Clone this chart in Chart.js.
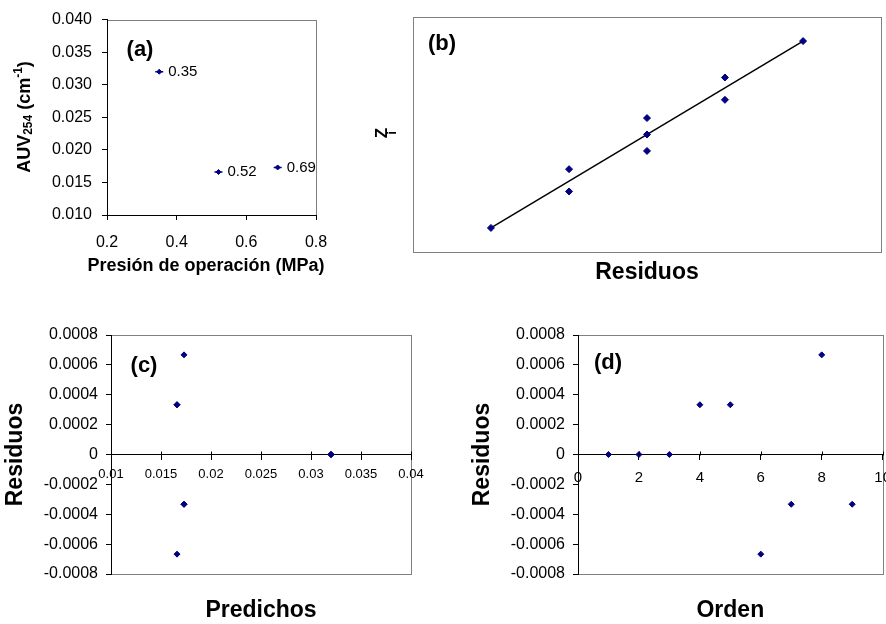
<!DOCTYPE html>
<html><head><meta charset="utf-8">
<script src="https://cdn.jsdelivr.net/npm/chart.js@4.4.1/dist/chart.umd.min.js"></script>
<style>
html,body{margin:0;padding:0;overflow:hidden;background:#fff;width:886px;height:624px;position:relative;}
canvas{position:absolute;}
</style></head><body>
<canvas id="ca" width="350" height="290" style="left:0;top:0;width:350px;height:290px"></canvas>
<canvas id="cb" width="526" height="290" style="left:360px;top:0;width:526px;height:290px"></canvas>
<canvas id="cc" width="440" height="334" style="left:0;top:290px;width:440px;height:334px"></canvas>
<canvas id="cd" width="460" height="334" style="left:440px;top:290px;width:460px;height:334px"></canvas>
<script>
// ---------- data ----------
const pressures = [0.35, 0.52, 0.69];
const auv254 = [0.0320, 0.0166, 0.0173];
const pressureLabels = ['0.35', '0.52', '0.69'];

const sortedResiduals = [-0.000667, -0.000333, -0.000333, 0, 0, 0, 0.000333, 0.000333, 0.000667];
const normalScores = [-1.59, -0.97, -0.59, -0.28, 0, 0.28, 0.59, 0.97, 1.59];

const order = [1, 2, 3, 4, 5, 6, 7, 8, 9];
const predicted = [0.0320, 0.0320, 0.0320, 0.0166, 0.0166, 0.0166, 0.0173, 0.0173, 0.0173];
const residuals = [0, 0, 0, 0.000333, 0.000333, -0.000667, -0.000333, 0.000667, -0.000333];

// ---------- tick labels ----------
const pressureTicks = [0.2, 0.4, 0.6, 0.8];
const pressureTickLabels = ['0.2', '0.4', '0.6', '0.8'];
const auvTicks = [0.010, 0.015, 0.020, 0.025, 0.030, 0.035, 0.040];
const auvTickLabels = ['0.010', '0.015', '0.020', '0.025', '0.030', '0.035', '0.040'];
const residualTicks = [-0.0008, -0.0006, -0.0004, -0.0002, 0, 0.0002, 0.0004, 0.0006, 0.0008];
const residualTickLabels = ['-0.0008', '-0.0006', '-0.0004', '-0.0002', '0', '0.0002', '0.0004', '0.0006', '0.0008'];
const predictedTicks = [0.01, 0.015, 0.02, 0.025, 0.03, 0.035, 0.04];
const predictedTickLabels = ['0.01', '0.015', '0.02', '0.025', '0.03', '0.035', '0.04'];
const orderTicks = [0, 2, 4, 6, 8, 10];
const orderTickLabels = ['0', '2', '4', '6', '8', '10'];

const panelLabels = ['(a)', '(b)', '(c)', '(d)'];
const titleA_x = 'Presión de operación (MPa)';
const titleResid = 'Residuos';
const titlePred = 'Predichos';
const titleOrder = 'Orden';

// ---------- helpers ----------
const FAM = '"Liberation Sans", Arial, sans-serif';
Chart.defaults.font.family = FAM;
Chart.defaults.color = '#000';
Chart.defaults.animation = false;
Chart.defaults.plugins.legend.display = false;
Chart.defaults.plugins.tooltip.enabled = false;
const NAVY = '#000080';
const GRAY = '#808080';

function pts(xs, ys) { return xs.map((x, i) => ({x: x, y: ys[i]})); }
function fixedTicks(values) { return s => { s.ticks = values.map(v => ({value: v})); }; }
function labelsFrom(labels) { return (v, i) => labels[i]; }

function rich(ctx, segs, cx, cy, rot) {
  ctx.save();
  ctx.translate(cx, cy);
  ctx.rotate(rot || 0);
  ctx.textBaseline = 'middle';
  ctx.textAlign = 'left';
  ctx.fillStyle = '#000';
  let total = 0;
  segs.forEach(s => { ctx.font = s.font; s.w = ctx.measureText(s.t).width; total += s.w; });
  let x = -total / 2;
  segs.forEach(s => { ctx.font = s.font; ctx.fillText(s.t, x, s.dy || 0); x += s.w; });
  ctx.restore();
}

function frame(extra, crossTicks) {
  return {
    id: 'frame',
    beforeDraw(chart) {
      const a = chart.chartArea, ctx = chart.ctx;
      ctx.save();
      ctx.strokeStyle = GRAY; ctx.lineWidth = 1;
      ctx.strokeRect(Math.round(a.left) + 0.5, Math.round(a.top) + 0.5,
                     Math.round(a.right - a.left), Math.round(a.bottom - a.top));
      ctx.restore();
    },
    afterDraw(chart) {
      const ctx = chart.ctx;
      if (crossTicks) {
        const xs = chart.scales.x, ys = chart.scales.y;
        const zy = Math.round(ys.getPixelForValue(0)) + 0.5;
        ctx.save(); ctx.strokeStyle = '#000'; ctx.lineWidth = 1;
        xs.ticks.forEach(t => {
          const px = Math.round(xs.getPixelForValue(t.value)) + 0.5;
          ctx.beginPath(); ctx.moveTo(px, zy); ctx.lineTo(px, zy - 4); ctx.stroke();
        });
        ctx.restore();
      }
      extra(chart, ctx);
    }
  };
}

function axisStyle(size, pad) {
  return {
    ticks: {font: {size: size}, padding: pad, maxRotation: 0, autoSkip: false, color: '#000'},
    grid: {drawOnChartArea: false, tickLength: 5, color: '#000'},
    border: {color: '#000', width: 1}
  };
}

// ---------- (a) ----------
const ca = new Chart(document.getElementById('ca'), {
  type: 'scatter',
  data: {datasets: [
    {data: pts(pressures, auv254), pointStyle: 'rectRot', pointRadius: 2.5,
     pointBackgroundColor: NAVY, pointBorderColor: NAVY, pointBorderWidth: 1},
    {data: pts(pressures, auv254), pointStyle: 'line', pointRadius: 4,
     pointBorderColor: NAVY, pointBorderWidth: 1.5}
  ]},
  options: {
    responsive: false,
    layout: {padding: {left: 0, top: 19, right: 34, bottom: 0}},
    scales: {
      x: Object.assign(axisStyle(16, 13), {
        type: 'linear', position: 'bottom', min: 0.2, max: 0.8,
        afterBuildTicks: fixedTicks(pressureTicks),
        afterFit: s => { s.height = 75; }
      }),
      y: Object.assign(axisStyle(16, 10), {
        type: 'linear', position: 'left', min: 0.010, max: 0.040,
        afterBuildTicks: fixedTicks(auvTicks),
        afterFit: s => { s.width = 107; }
      })
    }
  },
  plugins: [frame((chart, ctx) => {
    const xs = chart.scales.x, ys = chart.scales.y;
    ctx.save();
    ctx.font = '15px ' + FAM; ctx.fillStyle = '#000'; ctx.textBaseline = 'middle'; ctx.textAlign = 'left';
    pressures.forEach((p, i) => {
      ctx.fillText(pressureLabels[i], xs.getPixelForValue(p) + 9, ys.getPixelForValue(auv254[i]));
    });
    ctx.font = 'bold 22px ' + FAM; ctx.textAlign = 'center';
    ctx.fillText(panelLabels[0], 140, 50);
    ctx.font = 'bold 18px ' + FAM;
    ctx.fillText(titleA_x, 206, 266);
    ctx.restore();
    const B = 'bold 18px ' + FAM, S = 'bold 12px ' + FAM;
    rich(ctx, [{t: 'AUV', font: B}, {t: '254', font: S, dy: 4}, {t: ' (cm', font: B},
               {t: '-1', font: S, dy: -6}, {t: ')', font: B}], 25, 117, -Math.PI / 2);
  }, false)]
});
ca.options.scales.x.ticks.callback = labelsFrom(pressureTickLabels);
ca.options.scales.y.ticks.callback = labelsFrom(auvTickLabels);
ca.update();

// ---------- (b) ----------
new Chart(document.getElementById('cb'), {
  type: 'scatter',
  data: {datasets: [
    {data: pts(sortedResiduals, normalScores), pointStyle: 'rectRot', pointRadius: 3.5,
     pointBackgroundColor: NAVY, pointBorderColor: NAVY, pointBorderWidth: 1},
    {data: [{x: sortedResiduals[0], y: normalScores[0]},
            {x: sortedResiduals[sortedResiduals.length - 1], y: normalScores[normalScores.length - 1]}],
     showLine: true, borderColor: '#000', borderWidth: 1.5, pointRadius: 0}
  ]},
  options: {
    responsive: false,
    layout: {padding: {left: 53, top: 17, right: 5, bottom: 0}},
    scales: {
      x: {type: 'linear', position: 'bottom', min: -0.001, max: 0.001,
          ticks: {display: false}, grid: {display: false}, border: {display: false},
          title: {display: true, text: titleResid, font: {size: 23, weight: 'bold'}, padding: {top: 0, bottom: 4}},
          afterFit: s => { s.height = 38; }},
      y: {type: 'linear', display: false, min: -2, max: 2}
    }
  },
  plugins: [frame((chart, ctx) => {
    ctx.save();
    ctx.font = 'bold 22px ' + FAM; ctx.fillStyle = '#000'; ctx.textBaseline = 'middle'; ctx.textAlign = 'center';
    ctx.fillText(panelLabels[1], 82, 44);
    ctx.restore();
    rich(ctx, [{t: 'Z', font: 'bold 17px ' + FAM}], 22, 133, -Math.PI / 2);
    rich(ctx, [{t: 'i', font: 'bold 13px ' + FAM}], 32, 133, -Math.PI / 2);
  }, false)]
});

// ---------- (c) & (d) ----------
function residualChart(id, xVals, xTicks, xMin, xMax, xFont, xPad, yWidth, titleX, titlePadTop, rightPad, panel, lx, ly) {
  return new Chart(document.getElementById(id), {
    type: 'scatter',
    data: {datasets: [
      {data: pts(xVals, residuals), pointStyle: 'rectRot', pointRadius: 3,
       pointBackgroundColor: NAVY, pointBorderColor: NAVY, pointBorderWidth: 1, xAxisID: 'x', yAxisID: 'y'}
    ]},
    options: {
      responsive: false,
      layout: {padding: {left: 0, top: 45, right: rightPad, bottom: 0}},
      scales: {
        x: Object.assign(axisStyle(xFont, xPad), {
          type: 'linear', position: {y: 0}, min: xMin, max: xMax,
          afterBuildTicks: fixedTicks(xTicks)
        }),
        x2: {type: 'linear', position: 'bottom', axis: 'x',
             ticks: {display: false}, grid: {display: false}, border: {display: false},
             title: {display: true, text: titleX, font: {size: 23, weight: 'bold'}, padding: {top: 0, bottom: 0}},
             afterFit: s => { s.height = 50; }},
        y: Object.assign(axisStyle(16, 8), {
          type: 'linear', position: 'left', min: -0.0008, max: 0.0008,
          afterBuildTicks: fixedTicks(residualTicks),
          title: {display: true, text: titleResid, font: {size: 23, weight: 'bold'}, padding: {top: titlePadTop, bottom: 0}},
          afterFit: s => { s.width = yWidth; }
        })
      }
    },
    plugins: [frame((chart, ctx) => {
      ctx.save();
      ctx.font = 'bold 22px ' + FAM; ctx.fillStyle = '#000'; ctx.textBaseline = 'middle'; ctx.textAlign = 'center';
      ctx.fillText(panel, lx, ly);
      ctx.restore();
    }, true)]
  });
}
const cc = residualChart('cc', predicted, predictedTicks, 0.01, 0.04, 13, 7, 111, titlePred, 2, 29, panelLabels[2], 144, 76);
cc.options.scales.x.ticks.callback = labelsFrom(predictedTickLabels);
cc.options.scales.y.ticks.callback = labelsFrom(residualTickLabels);
cc.update();
const cd = residualChart('cd', order, orderTicks, 0, 10, 15, 9, 138, titleOrder, 29, 16, panelLabels[3], 168, 73);
cd.options.scales.x.ticks.callback = labelsFrom(orderTickLabels);
cd.options.scales.y.ticks.callback = labelsFrom(residualTickLabels);
cd.update();
</script>
</body></html>
